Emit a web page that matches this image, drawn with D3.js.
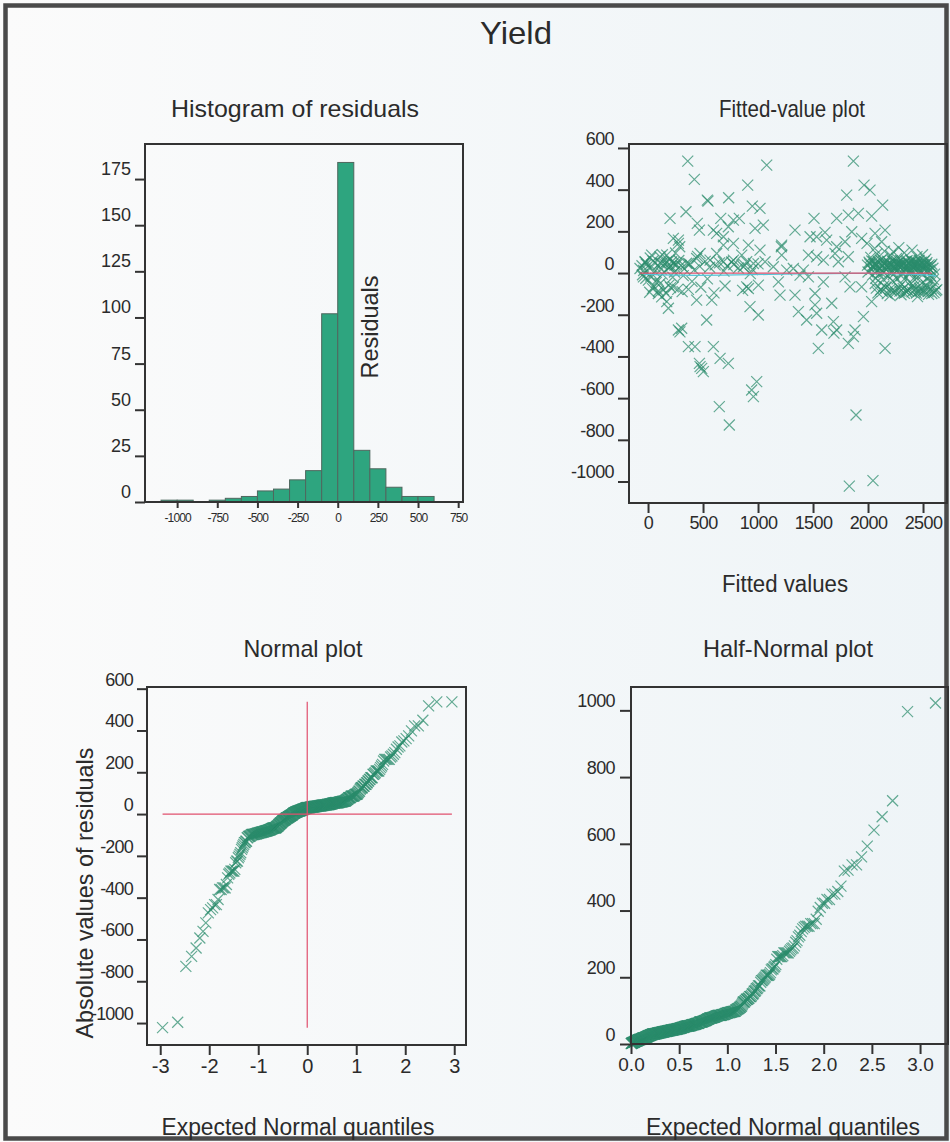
<!DOCTYPE html>
<html>
<head>
<meta charset="utf-8">
<script src="https://cdn.jsdelivr.net/npm/d3@7"></script>
<style>
  body { margin: 0; background: #f6f8f9; }
  svg { display: block; }
  text { font-family: "Liberation Sans", Arial, sans-serif; fill: #2b2b2b; }
</style>
</head>
<body>
<svg id="chart" width="950" height="1142"></svg>
<script>
// ---- Residuals against fitted values: [fitted, residual] ----
// Isolated points away from the zero band
const outlyingPoints = [
  [361,537],[1079,518],[1867,537],
  [421,449],[906,422],[1964,422],
  [2018,398],[733,361],[539,350],[545,345],[1806,374],[948,321],[1018,310],[2133,326],
  [200,262],[345,294],[448,238],[661,262],[830,262],[1509,262],[1715,262],[1821,278],[1912,286],
  [2033,273],[973,214],[1048,230],[467,206],[594,206],[730,222],[776,254],[1336,206],[2155,206],
  [1609,195],[1852,198],[230,166],[276,158],[276,142],[624,190],[685,174],[1473,174],[1533,174],
  [1624,158],[1791,150],[1942,166],[2064,190],[1215,134],[912,134],[1715,126],[1991,142],[2124,150],
  [685,134],[776,142],[1018,110],[288,126],[1212,126],[2060,118],[2150,105],[2280,122],[2400,110],[2230,102],
  [124,-114],[170,-137],[185,-169],[442,-130],[579,-130],[927,-161],[1200,-106],[1336,-106],[1367,-185],
  [1518,-153],[1533,-193],[1670,-145],[2033,-137],[2200,-108],[2300,-104],[2450,-113],[2550,-102],
  [533,-225],[276,-273],[306,-265],[1003,-201],[1442,-225],[1579,-273],[1685,-233],[1715,-273],
  [1882,-273],[1958,-209],[290,-282],[1690,-288],
  [367,-353],[427,-353],[594,-353],[1548,-361],[1821,-337],[1867,-305],[2155,-361],
  [467,-433],[488,-457],[503,-473],[473,-449],[655,-409],[730,-433],
  [942,-561],[958,-593],[988,-521],
  [648,-641],[1891,-681],
  [739,-729],
  [2045,-996],
  [1830,-1022]
];

// Points in the band around zero, fitted values below about 2000
const zeroBandPoints = [
  [-27,54],[-73,22],[33,86],[109,78],[170,86],[215,54],[245,38],[367,46],[442,70],[473,94],
  [564,62],[624,94],[685,54],[776,62],[852,86],[897,54],[958,46],[1064,54],[1215,86],[1321,22],
  [1458,86],[1533,78],[1594,62],[1700,94],[1730,54],[1821,78],[867,30],[1139,30],[1261,14],[1412,14],
  [200,30],[124,46],
  [-42,-18],[3,-34],[48,-66],[94,-98],[109,-50],[230,-66],[367,-78],[897,-66],[912,-74],[1003,-58],
  [1185,-42],[1518,-98],[1594,-42],[1942,-66],[1791,-18],[1836,-66],[1458,-18],[1382,-10]
];

// Overlapping points at low fitted values
const lowFittedPoints = [
  [-40,12],[10,25],[60,8],[120,18],[185,27],[240,5],[330,20],[420,15],[560,28],[690,9],[820,24],[950,17],
  [-55,35],[-15,42],[35,31],[90,38],[150,44],[210,33],[260,40],[300,36],[380,43],[470,32],[610,39],
  [720,34],[780,41],[880,37],[1000,44],
  [-25,52],[45,58],[110,48],[170,55],[235,50],[280,60],[350,47],[520,56],[650,49],[760,53],
  [20,72],[130,88],[200,65],[250,96],[450,80],
  [15,-92],[95,-86],[165,-97],[310,-89],[600,-95],
  [40,-75],[140,-81],[205,-70],[270,-78],[480,-68],[860,-83],
  [75,-45],[190,-58],[400,-40],[700,-62],
  [-50,-8],[-20,-25],[25,-14],[85,-30],[130,-5],[225,-20],[320,-12],[540,-28],[930,-3]
];

// Dense cluster at high fitted values
const highFittedPoints = [
  [2000,5],[2030,18],[2060,27],[2085,11],[2110,22],[2140,3],[2165,15],[2190,29],[2215,8],[2240,20],
  [2265,13],[2290,26],[2310,2],[2335,17],[2360,24],[2385,9],[2405,28],[2430,14],[2455,21],[2475,6],
  [2500,19],[2520,25],[2545,10],[2565,16],[2590,23],[2120,1],[2250,30],[2380,4],[2470,12],
  [1995,38],[2015,44],[2040,33],[2055,41],[2070,36],[2090,31],[2105,43],[2125,39],[2135,34],[2150,45],
  [2170,32],[2180,40],[2200,37],[2210,42],[2225,35],[2235,31],[2255,44],[2270,38],[2280,33],[2300,41],
  [2315,36],[2325,43],[2340,30],[2350,39],[2365,34],[2375,45],[2390,37],[2400,32],[2415,42],[2425,35],
  [2440,40],[2450,31],[2460,44],[2480,38],[2490,33],[2505,41],[2515,36],[2530,43],[2540,30],[2555,39],
  [2570,34],[2580,42],[2160,37],[2285,40],[2410,35],
  [2010,52],[2035,58],[2065,47],[2095,55],[2115,61],[2145,50],[2175,57],[2195,46],[2220,59],[2245,53],
  [2275,48],[2295,60],[2320,51],[2345,56],[2370,49],[2395,58],[2420,54],[2445,47],[2465,61],[2485,52],
  [2510,57],[2535,50],[2050,55],[2260,46],[2355,59],[2435,53],
  [2025,75],[2080,92],[2130,68],[2205,84],[2260,70],[2330,97],[2390,63],[2445,79],[2495,88],[2525,66],
  [2090,-95],[2130,-88],[2175,-99],[2215,-85],[2250,-92],[2290,-87],[2330,-97],[2365,-84],[2400,-90],
  [2440,-96],[2475,-86],[2510,-93],[2545,-89],[2580,-98],[2615,-85],[2350,-91],[2460,-88],[2600,-94],
  [2075,-72],[2115,-80],[2160,-68],[2200,-77],[2240,-83],[2280,-70],[2320,-75],[2355,-81],[2395,-67],
  [2430,-79],[2470,-73],[2505,-82],[2540,-69],[2575,-76],[2625,-80],
  [2065,-50],[2145,-62],[2225,-38],[2305,-55],[2380,-44],[2420,-65],[2490,-48],[2530,-59],[2565,-36],[2610,-53],
  [2040,-10],[2070,-25],[2100,-4],[2140,-31],[2185,-16],[2230,-7],[2265,-28],[2300,-13],[2345,-21],
  [2385,-2],[2425,-33],[2455,-18],[2495,-9],[2535,-26],[2570,-14],[2605,-5],[2595,-30]
];

// Smoothed trend of residuals across fitted values
const trendLine = [[-36,-6],[200,-11],[700,-11],[1100,-6],[1500,-3],[1800,-1],[2200,-2],[2450,-6],[2620,-14]];

// Tick values
const histTicksX = [-1000,-750,-500,-250,0,250,500,750];
const histTicksY = [0,25,50,75,100,125,150,175];
const fittedTicksX = [0,500,1000,1500,2000,2500];
const fittedTicksY = [-1000,-800,-600,-400,-200,0,200,400,600];
const normalTicksX = [-3,-2,-1,0,1,2,3];
const normalTicksY = [-1000,-800,-600,-400,-200,0,200,400,600];
const halfTicksX = [0,0.5,1,1.5,2,2.5,3];
const halfTicksY = [0,200,400,600,800,1000];

// ---- derived series ----
const fittedResiduals = [].concat(outlyingPoints, zeroBandPoints, lowFittedPoints, highFittedPoints);
const residuals = fittedResiduals.map(d => d[1]);
const n = residuals.length;

// Inverse standard normal CDF (Acklam's rational approximation)
function qnorm(p) {
  const a = [-3.969683028665376e+01, 2.209460984245205e+02, -2.759285104469687e+02, 1.383577518672690e+02, -3.066479806614716e+01, 2.506628277459239e+00];
  const b = [-5.447609879822406e+01, 1.615858368580409e+02, -1.556989798598866e+02, 6.680131188771972e+01, -1.328068155288572e+01];
  const c = [-7.784894002430293e-03, -3.223964580411365e-01, -2.400758277161838e+00, -2.549732539343734e+00, 4.374664141464968e+00, 2.938163982698783e+00];
  const d = [7.784695709041462e-03, 3.224671290700398e-01, 2.445134137142996e+00, 3.754408661907416e+00];
  const pl = 0.02425, ph = 1 - pl;
  let q, r;
  if (p < pl) {
    q = Math.sqrt(-2 * Math.log(p));
    return (((((c[0]*q+c[1])*q+c[2])*q+c[3])*q+c[4])*q+c[5]) / ((((d[0]*q+d[1])*q+d[2])*q+d[3])*q+1);
  }
  if (p > ph) {
    q = Math.sqrt(-2 * Math.log(1 - p));
    return -(((((c[0]*q+c[1])*q+c[2])*q+c[3])*q+c[4])*q+c[5]) / ((((d[0]*q+d[1])*q+d[2])*q+d[3])*q+1);
  }
  q = p - 0.5; r = q * q;
  return (((((a[0]*r+a[1])*r+a[2])*r+a[3])*r+a[4])*r+a[5])*q / (((((b[0]*r+b[1])*r+b[2])*r+b[3])*r+b[4])*r+1);
}

const normalPoints = residuals.slice().sort(d3.ascending)
  .map((r, i) => [qnorm((i + 1 - 0.375) / (n + 0.25)), r]);
const halfNormalPoints = residuals.map(Math.abs).sort(d3.ascending)
  .map((r, i) => [qnorm(0.5 + 0.5 * (i + 1 - 0.375) / (n + 0.25)), r]);

// ---- drawing ----
const svg = d3.select("#chart");
const FONT = '"Liberation Sans", Arial, sans-serif';
const INK = "#2b2b2b";
const MARK = "#2b8c6c";
// plain integers with an ASCII hyphen for negatives
const intFmt = d => (d < 0 ? "-" : "") + Math.abs(d);

const defs = svg.append("defs");
const paper = defs.append("linearGradient").attr("id", "paper").attr("x1", 0).attr("x2", 1).attr("y1", 0).attr("y2", 0);
paper.append("stop").attr("offset", "0%").attr("stop-color", "#fbfbfb");
paper.append("stop").attr("offset", "100%").attr("stop-color", "#eef4f7");
svg.append("rect").attr("width", 950).attr("height", 1142).attr("fill", "url(#paper)");

// outer frame
svg.append("rect").attr("x", 5.5).attr("y", 5.5).attr("width", 941).attr("height", 1133)
  .attr("fill", "none").attr("stroke", "#4a4a4a").attr("stroke-width", 4.5);

function title(txt, x, y, size, width, rotate) {
  const t = svg.append("text")
    .attr("text-anchor", "middle")
    .attr("font-size", size)
    .attr("textLength", width)
    .attr("lengthAdjust", "spacingAndGlyphs")
    .text(txt);
  if (rotate) t.attr("transform", `translate(${x},${y}) rotate(-90)`);
  else t.attr("x", x).attr("y", y);
  return t;
}

function styleAxis(g, size, dy) {
  g.attr("font-family", FONT).attr("font-size", size);
  g.select(".domain").remove();
  g.selectAll(".tick line").attr("stroke", "#333").attr("stroke-width", 2);
  g.selectAll(".tick text").attr("fill", INK);
  if (dy !== undefined) g.selectAll(".tick text").attr("dy", dy);
}

function frame(x0, y0, x1, y1) {
  svg.append("rect").attr("x", x0).attr("y", y0).attr("width", x1 - x0).attr("height", y1 - y0)
    .attr("fill", "none").attr("stroke", "#333").attr("stroke-width", 2);
}

function crosses(g, pts, x, y) {
  g.selectAll("path.m").data(pts).join("path")
    .attr("class", "m")
    .attr("d", d => {
      const cx = x(d[0]), cy = y(d[1]);
      return `M${cx-5.5},${cy-5.5}L${cx+5.5},${cy+5.5}M${cx-5.5},${cy+5.5}L${cx+5.5},${cy-5.5}`;
    })
    .attr("fill", "none")
    .attr("stroke", MARK)
    .attr("stroke-width", 1.2)
    .attr("stroke-opacity", 0.72);
}

// main title
title("Yield", 516, 44, 32, 72);

// ---- Histogram of residuals ----
{
  const x = d3.scaleLinear().domain([-1200, 780]).range([145, 463]);
  const y = d3.scaleLinear().domain([0, 194]).range([502, 144]);
  const bins = d3.bin().domain([-1100, 600]).thresholds(d3.range(-1000, 600, 100))(residuals);
  svg.append("g").selectAll("rect").data(bins.filter(b => b.length > 0)).join("rect")
    .attr("x", b => x(b.x0))
    .attr("y", b => y(b.length))
    .attr("width", b => x(b.x1) - x(b.x0))
    .attr("height", b => y(0) - y(b.length))
    .attr("fill", "#2ea57f")
    .attr("stroke", "#4f675e")
    .attr("stroke-width", 1);
  frame(145, 144, 463, 502);
  const gy = svg.append("g").attr("transform", "translate(145,0)")
    .call(d3.axisLeft(y).tickValues(histTicksY).tickFormat(intFmt).tickSize(10).tickPadding(4));
  styleAxis(gy, 18, "-0.25em");
  const gx = svg.append("g").attr("transform", "translate(0,502)")
    .call(d3.axisBottom(x).tickValues(histTicksX).tickFormat(intFmt).tickSize(6).tickPadding(5));
  styleAxis(gx, 12);
  gx.selectAll(".tick text").attr("letter-spacing", "-0.9px");
  title("Histogram of residuals", 295, 117, 24, 248);
  title("Residuals", 378, 327, 24, 103, true);
}

// ---- Fitted-value plot ----
{
  const x = d3.scaleLinear().domain([-173, 2718]).range([629, 947]);
  const y = d3.scaleLinear().domain([-1103, 619]).range([503, 144]);
  const g = svg.append("g");
  crosses(g, fittedResiduals, x, y);
  const ext = d3.extent(fittedResiduals, d => d[0]);
  svg.append("path")
    .attr("d", d3.line().x(d => x(d[0])).y(d => y(d[1])).curve(d3.curveBasis)(trendLine))
    .attr("fill", "none").attr("stroke", "#55c3d6").attr("stroke-width", 1.3);
  svg.append("line")
    .attr("x1", x(ext[0])).attr("x2", x(ext[1]) - 5)
    .attr("y1", y(0)).attr("y2", y(0))
    .attr("stroke", "#e0506e").attr("stroke-width", 1.3);
  frame(629, 144, 947, 503);
  const gy = svg.append("g").attr("transform", "translate(629,0)")
    .call(d3.axisLeft(y).tickValues(fittedTicksY).tickFormat(intFmt).tickSize(11).tickPadding(4));
  styleAxis(gy, 18, "-0.2em");
  gy.selectAll(".tick text").attr("letter-spacing", "-0.6px");
  const gx = svg.append("g").attr("transform", "translate(0,503)")
    .call(d3.axisBottom(x).tickValues(fittedTicksX).tickFormat(intFmt).tickSize(10).tickPadding(3));
  styleAxis(gx, 18);
  gx.selectAll(".tick text").attr("letter-spacing", "-0.6px");
  title("Fitted-value plot", 792, 117, 24, 146);
  title("Fitted values", 785, 592, 23, 126);
}

// ---- Normal plot ----
{
  const x = d3.scaleLinear().domain([-3.27, 3.24]).range([147, 466]);
  const y = d3.scaleLinear().domain([-1105, 608]).range([1045, 687]);
  const g = svg.append("g");
  crosses(g, normalPoints, x, y);
  const qExt = d3.extent(normalPoints, d => d[0]);
  const rExt = d3.extent(normalPoints, d => d[1]);
  svg.append("line").attr("x1", x(qExt[0])).attr("x2", x(qExt[1])).attr("y1", y(0)).attr("y2", y(0))
    .attr("stroke", "#e0506e").attr("stroke-width", 1.2);
  svg.append("line").attr("x1", x(0)).attr("x2", x(0)).attr("y1", y(rExt[0])).attr("y2", y(rExt[1]))
    .attr("stroke", "#e0506e").attr("stroke-width", 1.2);
  frame(147, 687, 466, 1045);
  const gy = svg.append("g").attr("transform", "translate(147,0)")
    .call(d3.axisLeft(y).tickValues(normalTicksY).tickFormat(intFmt).tickSize(10).tickPadding(4));
  styleAxis(gy, 18, "-0.2em");
  gy.selectAll(".tick text").attr("letter-spacing", "-0.8px");
  const gx = svg.append("g").attr("transform", "translate(0,1045)")
    .call(d3.axisBottom(x).tickValues(normalTicksX).tickFormat(intFmt).tickSize(10).tickPadding(4));
  styleAxis(gx, 20);
  title("Normal plot", 303, 657, 24, 119);
  title("Expected Normal quantiles", 298, 1135, 23, 273);
  title("Absolute values of residuals", 93, 893, 24, 291, true);
}

// ---- Half-Normal plot ----
{
  const x = d3.scaleLinear().domain([0, 3.29]).range([631, 948]);
  const y = d3.scaleLinear().domain([0, 1070]).range([1044, 687]);
  const g = svg.append("g");
  crosses(g, halfNormalPoints, x, y);
  frame(631, 687, 948, 1044);
  const gy = svg.append("g").attr("transform", "translate(631,0)")
    .call(d3.axisLeft(y).tickValues(halfTicksY).tickFormat(intFmt).tickSize(11).tickPadding(5));
  styleAxis(gy, 18, "-0.2em");
  gy.selectAll(".tick text").attr("letter-spacing", "-0.6px");
  const gx = svg.append("g").attr("transform", "translate(0,1044)")
    .call(d3.axisBottom(x).tickValues(halfTicksX).tickFormat(d3.format(".1f")).tickSize(10).tickPadding(4));
  styleAxis(gx, 19);
  title("Half-Normal plot", 788, 657, 24, 170);
  title("Expected Normal quantiles", 783, 1135, 23, 274);
}
</script>
</body>
</html>
